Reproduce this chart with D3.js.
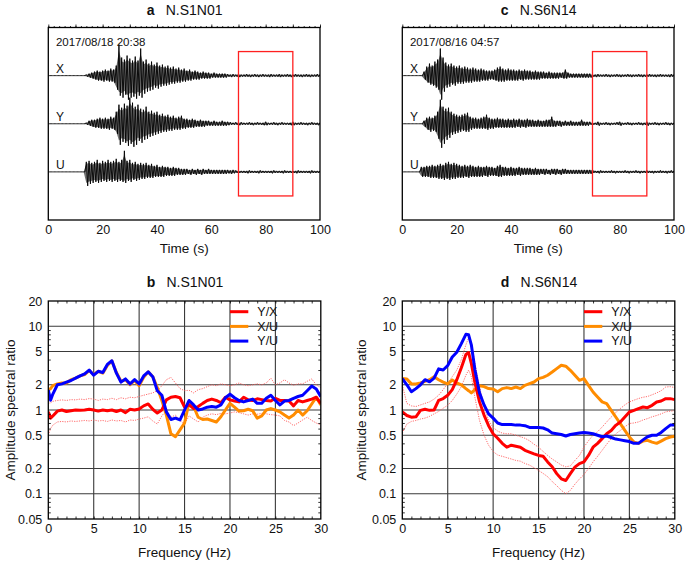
<!DOCTYPE html>
<html><head><meta charset="utf-8">
<script src="https://cdn.jsdelivr.net/npm/d3@7"></script>
<style>
body{margin:0;background:#fff}
text{font-family:"Liberation Sans",Arial,Helvetica,sans-serif;fill:#111}
</style>
</head><body>
<svg id="chart" width="685" height="561"></svg>
<script>
// ---------------- DATA ----------------
const timeTicks = [0, 20, 40, 60, 80, 100];
const freqTicks = [0, 5, 10, 15, 20, 25, 30];
const ratioTicks = [0.05, 0.1, 0.2, 0.5, 1, 2, 5, 10, 20];
const ratioGrid = [0.1, 0.2, 0.5, 1, 2, 5, 10];
const freqGrid = [5, 10, 15, 20, 25];
const ratioMinor = [0.06,0.07,0.08,0.09,0.3,0.4,0.6,0.7,0.8,0.9,3,4,6,7,8,9];
const components = ["X", "Y", "U"];
const legendLabels = ["Y/X", "X/U", "Y/U"];
const analysisWindow = [70, 90];          // seconds
const seisTime = d3.range(0, 101);        // one envelope sample per second

// station N.S1N01 (panel a) – upper / lower envelope amplitudes (counts)
const aX_up = [0,0,0,0,0,0,0,0,0,0,0,0,0,0, 1,2,3,4,5,4,5,6,5,7,6,10, 31,18,16,20,17,15,19,15,27,14, 16,12,14,11,13,10,11,9,10,8, 9,7,8,6,7,5,6,4,5,4, 3,4,3,3,2,3,2,2,2,2, 1.5,1,1.5,1,1.5,1,1,1.5,1,1, 1.5,1,1,1.5,1,1,1.5,1,1,1.5, 1,1,1.5,1,1,1.5,1,1,1,1.5, 1,1,1,1.5,1];
const aX_lo = [0,0,0,0,0,0,0,0,0,0,0,0,0,0, 1,2,3,4,5,5,6,5,6,6,7,14, 20,22,19,24,22,21,23,20,22,18, 16,15,14,12,13,11,10,10,9,8, 8,7,7,6,6,5,5,4,4,4, 3,3,3,3,2,2,2,2,2,2, 1,1.5,1,1,1.5,1,1,1,1.5,1, 1,1.5,1,1,1,1.5,1,1,1,1.5, 1,1,1,1.5,1,1,1,1.5,1,1, 1.5,1,1,1,1];
const aY_up = [0,0,0,0,0,0,0,0,0,0,0,0,0,0, 1,3,4,4,5,6,5,6,5,7,6,12, 19,16,20,18,26,21,17,19,15,14, 17,12,13,11,12,9,10,8,9,7, 8,6,7,8,5,5,4,5,4,3, 4,3,3,3,2,3,2,2,3,2, 2,1.5,1,1.5,1,1.5,1,1,1.5,1, 1,1.5,1,1,2,1,1,1.5,1,1, 1.5,1,1,1,2,1,1,1.5,1,1, 1,1.5,1,1,1];
const aY_lo = [0,0,0,0,0,0,0,0,0,0,0,0,0,0, 1,2,3,4,4,5,5,5,6,5,6,10, 21,18,19,22,20,23,21,17,19,16, 15,13,12,11,10,9,8,8,7,7, 6,6,6,5,5,4,4,4,3,3, 3,3,2,2,2,2,2,2,2,2, 1.5,1,1,1,1.5,1,1,1,1,1.5, 1,1,1,1.5,1.5,1,1,1,1.5,1, 1,1,1,1.5,1.5,1,1,1,1,1.5, 1,1,1,1.5,1];
const aU_up = [0,0,0,0,0,0,0,0,0,0,0,0,0,0, 10,11,9,10,12,9,11,10,12,10,11,13, 10,12,21,11,12,9,10,8,9,8, 9,7,8,6,7,5,6,5,5,4, 5,4,4,3,3,3,2,3,2,3, 2,3,2,3,2,2,2,2,2,2, 2,1.5,2,1.5,1,1,1,1,1.5,1, 1,1,1.5,1,1,1,1,1.5,1,1, 1,1.5,1,1,1,1,1.5,1,1,1, 1,1.5,1,1,1];
const aU_lo = [0,0,0,0,0,0,0,0,0,0,0,0,0,0, 14,12,11,10,11,10,9,10,9,10,9,10, 9,10,11,9,10,8,9,8,7,7, 6,6,6,5,5,5,5,4,4,4, 4,3,3,3,3,2,3,2,3,2, 3,2,2,2,2,2,2,2,2,2, 1.5,2,1.5,1,1,1,1,1.5,1,1, 1,1.5,1,1,1,1,1.5,1,1,1, 1.5,1,1,1,1,1.5,1,1,1,1, 1.5,1,1,1,1];

// station N.S6N14 (panel c)
const cX_up = [0,0,0,0,0,0,0,0, 4,9,12,10,14,16,27,18,13,11, 12,10,9,10,8,9,8,7,8,7, 6,7,6,5,5,5,6,8,9,7, 6,7,6,6,5,6,5,6,5,5, 4,5,4,4,4,3,4,3,3,3, 3,3,6,3,2,2,2,2,2,2, 2,2,1,1,1.5,1,1,1.5,1,1, 1,1.5,1,1,1,1.5,1,1,1,1.5, 1,1,1,1.5,1,1,1,1.5,1,1, 1,1.5,1];
const cX_lo = [0,0,0,0,0,0,0,0, 4,7,9,10,12,14,24,16,12,11, 9,10,8,8,8,7,7,7,6,6, 6,5,5,5,4,4,5,6,6,6, 5,5,5,5,5,4,5,4,4,4, 4,4,4,3,3,3,3,3,3,3, 2,3,3,2,2,2,2,2,2,2, 2,2,1,1.5,1,1,1,1,1.5,1, 1,1,1.5,1,1,1,1.5,1,1,1, 1.5,1,1,1,1,1.5,1,1,1,1, 1.5,1,1];
const cY_up = [0,0,0,0,0,0,0,0, 3,6,7,6,8,12,24,17,15,16, 12,10,9,8,9,10,11,7,6,6, 5,6,7,9,6,5,5,6,5,5, 4,5,4,5,4,5,4,4,5,4, 4,3,4,3,3,4,4,7,3,3, 3,2,3,2,3,2,2,2,4,2, 2,2,1,1,2,1,1,1.5,1,1, 1,1.5,2,1,1,1.5,1,1,1,1.5, 1,1,2,1,1,1.5,1,1,1,1.5, 1,1,1];
const cY_lo = [0,0,0,0,0,0,0,0, 3,6,8,7,8,15,24,20,16,14, 11,10,9,8,7,8,8,6,5,5, 5,5,5,6,5,5,4,4,4,4, 4,4,4,4,3,4,3,4,3,3, 3,3,3,3,3,3,3,3,3,2, 3,2,2,2,2,2,2,2,2,2, 2,1,1,1,2,1,1,1,1.5,1, 1,1,2,1,1,1,1.5,1,1,1, 1.5,1,2,1,1,1,1.5,1,1,1, 1.5,1,1];
const cU_up = [0,0,0,0,0,0,0, 5,5,6,6,7,6,7,8,7,9, 10,8,9,8,7,6,7,6,7,6, 5,6,5,5,6,5,5,4,6,7, 5,5,4,5,4,4,5,4,4,4, 4,3,4,3,3,3,3,2,3,3, 3,2,3,3,2,2,2,2,2,2, 2,2,2,2,1,1,1.5,1,1,1, 1.5,1,1,1,1,1.5,1,1,1,1.5, 1,1,1,1.5,1,1,1,1,1.5,1, 1,1,1.5,1];
const cU_lo = [0,0,0,0,0,0,0, 5,5,5,6,6,6,7,7,8,7, 8,7,7,6,6,6,5,6,5,5, 5,5,5,4,5,4,4,4,5,5, 4,4,4,4,4,3,4,3,3,3, 3,3,3,3,2,3,2,3,2,3, 2,3,2,2,2,2,2,2,2,2, 2,2,2,1,1,1.5,1,1,1,1, 1,1.5,1,1,1,1,1.5,1,1,1, 1.5,1,1,1,1,1.5,1,1,1,1, 1.5,1,1,1];

// spectral ratios, panel b (N.S1N01)
const freqB = [0,0.25,0.5,1,1.5,2,2.5,3,3.5,4,4.5,5,5.5,6,6.5,7,7.5,8,8.5,9,9.5,10,10.5,11,11.5,12,12.5,13,13.5,14,14.5,15,15.5,16,16.5,17,17.5,18,18.5,19,19.5,20,20.5,21,21.5,22,22.5,23,23.5,24,24.5,25,25.5,26,26.5,27,27.5,28,28.5,29,29.5,30];
const b_YX = [0.95,0.8,0.85,0.97,1.0,0.96,0.98,1.0,0.99,1.0,1.02,1.0,0.97,1.0,0.98,1.0,0.96,1.0,0.93,1.02,1.0,1.03,1.12,1.18,1.02,0.92,1.0,1.32,1.42,1.45,1.4,1.08,1.15,1.04,1.1,1.2,1.3,1.35,1.3,1.22,1.42,1.32,1.28,1.25,1.42,1.32,1.3,1.36,1.33,1.3,1.28,1.38,1.3,1.3,1.28,1.12,1.3,1.25,1.3,1.35,1.42,1.2];
const b_YX_hi = [1.2,1.22,1.27,1.3,1.32,1.3,1.33,1.32,1.35,1.33,1.37,1.35,1.3,1.35,1.33,1.38,1.33,1.4,1.36,1.42,1.4,1.45,1.5,1.55,1.6,1.7,1.95,2.3,2.45,2.1,1.8,1.7,1.72,1.6,1.75,1.8,1.9,2.0,1.95,2.05,2.0,1.95,2.0,2.1,2.0,1.95,2.0,2.05,2.0,2.1,2.4,2.0,2.1,2.3,2.1,1.98,2.05,2.05,2.2,2.35,2.0,1.85];
const b_YX_lo = [0.5,0.6,0.66,0.72,0.73,0.72,0.74,0.73,0.74,0.75,0.74,0.76,0.74,0.75,0.73,0.76,0.74,0.75,0.72,0.76,0.75,0.78,0.8,0.83,0.74,0.68,0.85,1.0,0.82,0.87,0.75,0.68,0.85,0.78,0.72,0.82,0.87,0.9,0.88,0.91,0.9,0.92,0.95,0.93,0.9,0.87,0.9,0.89,0.91,0.9,0.88,0.87,0.85,0.75,0.72,0.65,0.7,0.76,0.82,0.75,0.7,0.66];
const b_XU = [1.73,1.8,1.95,2.05,2.1,2.1,2.3,2.4,2.55,2.65,2.95,2.65,2.9,2.75,3.4,3.85,2.8,2.2,2.3,2.0,2.25,1.95,2.45,2.85,2.5,1.85,1.3,0.87,0.52,0.48,0.58,0.7,1.25,1.1,0.82,0.77,0.78,0.75,0.72,0.83,1.0,1.2,1.08,0.97,0.98,1.02,0.98,0.8,0.85,1.0,1.04,1.0,0.95,0.87,0.8,0.87,1.0,0.87,0.98,1.18,1.42,1.15];
const b_YU = [1.73,1.31,1.55,2.0,2.05,2.15,2.25,2.4,2.55,2.7,3.0,2.6,2.9,2.8,3.5,3.87,2.75,2.15,2.35,2.05,2.3,2.05,2.55,2.85,2.5,1.7,1.5,0.95,0.77,0.8,0.76,1.0,1.3,1.15,1.0,1.03,1.08,1.1,1.08,1.15,1.4,1.55,1.4,1.3,1.25,1.3,1.35,1.2,1.2,1.38,1.5,1.3,1.15,1.28,1.3,1.38,1.45,1.5,1.7,1.93,1.78,1.44];

// spectral ratios, panel d (N.S6N14)
const freqD = [0,0.5,1,1.5,2,2.5,3,3.5,4,4.5,5,5.5,6,6.5,7,7.3,7.6,8,8.5,9,9.5,10,10.5,11,11.5,12,12.5,13,13.5,14,14.5,15,15.5,16,16.5,17,17.5,18,18.5,19,19.5,20,20.5,21,21.5,22,22.5,23,23.5,24,24.5,25,25.5,26,26.5,27,27.5,28,28.5,29,29.5,30];
const d_YX = [0.95,0.86,0.82,0.83,0.99,1.02,0.99,1.0,1.3,1.37,1.5,1.75,2.3,3.2,4.6,4.85,3.6,2.1,1.25,0.87,0.65,0.52,0.46,0.40,0.36,0.38,0.37,0.36,0.33,0.315,0.30,0.287,0.28,0.24,0.21,0.174,0.151,0.144,0.174,0.208,0.229,0.24,0.287,0.36,0.40,0.455,0.52,0.57,0.656,0.72,0.825,0.946,0.99,1.04,1.086,1.066,1.137,1.246,1.28,1.366,1.366,1.33];
const d_YX_hi = [2.0,1.2,1.12,1.1,1.15,1.2,1.25,1.35,1.5,1.75,2.08,2.5,3.0,4.0,6.0,7.3,6.2,3.6,1.9,1.1,0.75,0.62,0.56,0.53,0.52,0.52,0.5,0.48,0.46,0.43,0.39,0.36,0.32,0.287,0.26,0.24,0.22,0.21,0.215,0.25,0.286,0.36,0.43,0.50,0.55,0.626,0.72,0.825,0.93,1.04,1.15,1.25,1.31,1.37,1.42,1.45,1.52,1.6,1.7,1.88,1.9,1.85];
const d_YX_lo = [0.53,0.68,0.73,0.75,0.78,0.8,0.84,0.9,0.96,1.05,1.14,1.3,1.55,1.9,2.6,3.0,2.5,1.4,0.75,0.5,0.38,0.32,0.29,0.28,0.27,0.26,0.25,0.245,0.23,0.22,0.205,0.19,0.175,0.16,0.14,0.125,0.11,0.10,0.11,0.13,0.15,0.17,0.2,0.24,0.28,0.33,0.39,0.455,0.52,0.57,0.63,0.69,0.70,0.72,0.76,0.79,0.83,0.86,0.9,0.95,0.97,0.98];
const d_XU = [2.38,2.35,2.05,2.05,2.1,2.2,2.3,2.5,2.3,2.15,2.05,2.28,2.1,2.0,1.8,1.7,1.6,1.75,1.95,1.9,1.8,1.78,1.65,1.8,1.85,1.8,1.88,1.8,1.97,2.06,2.16,2.37,2.45,2.6,2.84,3.12,3.42,3.33,2.98,2.6,2.26,2.37,1.97,1.64,1.43,1.25,1.19,0.99,0.825,0.686,0.571,0.476,0.414,0.40,0.426,0.434,0.414,0.40,0.426,0.455,0.476,0.485];
const d_YU = [2.37,2.0,1.65,1.8,2.0,2.3,2.17,2.4,3.1,3.0,3.4,4.3,4.9,6.2,8.0,7.9,6.0,3.0,1.6,1.15,0.9,0.8,0.7,0.67,0.67,0.67,0.66,0.66,0.65,0.62,0.62,0.62,0.61,0.58,0.53,0.52,0.51,0.49,0.51,0.52,0.53,0.54,0.53,0.52,0.50,0.48,0.49,0.47,0.45,0.44,0.43,0.42,0.40,0.40,0.44,0.48,0.50,0.50,0.54,0.60,0.66,0.66];

// ---------------- DRAWING ----------------
const svg = d3.select("#chart");
const AMP_PER_GAP = 48;           // envelope counts per trace separation
const traceLevels = [3, 2, 1];    // X, Y, U offsets
const colors = {YX: "#ff0000", XU: "#ff8c00", YU: "#0000ff", band: "#ff5a5a"};

function title(cx, cy, letter, name) {
  const t = svg.append("text").attr("x", cx).attr("y", cy).attr("text-anchor", "middle")
    .style("font-size", "14px");
  t.append("tspan").text(letter).style("font-weight", "bold");
  t.append("tspan").attr("dx", 11).text(name);
}

function seismoPanel(o) {
  const x = d3.scaleLinear().domain([0, 100]).range([o.left, o.left + 271.7]);
  const y = d3.scaleLinear().domain([0, 4]).range([220, 27.5]);
  const amp = d3.scaleLinear().domain([0, AMP_PER_GAP]).range([0, 1]);
  const g = svg.append("g");
  const clipId = "clip" + o.letter;
  svg.append("clipPath").attr("id", clipId).append("rect")
    .attr("x", x(0)).attr("y", y(4)).attr("width", x(100) - x(0)).attr("height", y(0) - y(4));
  const line = d3.line().x(d => x(d[0])).y(d => y(d[1]));
  o.traces.forEach((tr, i) => {
    const base = traceLevels[i];
    // envelope body
    const area = d3.area().x(d => x(d)).y0((d, k) => y(base - amp(tr.lo[k]) * 0.8))
      .y1((d, k) => y(base + amp(tr.up[k]) * 0.8));
    g.append("path").attr("d", area(seisTime)).attr("fill", "#000").attr("fill-opacity", 0.55)
      .attr("clip-path", `url(#${clipId})`);
    // oscillation trace
    const pts = [];
    seisTime.forEach((t, k) => {
      pts.push([t, base + amp(tr.up[k])]);
      pts.push([t + 0.5, base - amp(tr.lo[k])]);
    });
    g.append("path").attr("d", line(pts)).attr("fill", "none")
      .attr("stroke", "#000").attr("stroke-width", 0.9).attr("stroke-linejoin", "round")
      .attr("clip-path", `url(#${clipId})`);
    g.append("text").attr("x", x(2.8)).attr("y", y(base) - 2.5)
      .style("font-size", "12px").text(components[i]);
  });
  // analysis window
  g.append("rect").attr("x", x(analysisWindow[0])).attr("y", y(3.5))
    .attr("width", x(analysisWindow[1]) - x(analysisWindow[0])).attr("height", y(0.5) - y(3.5))
    .attr("fill", "none").attr("stroke", "#ff2020").attr("stroke-width", 1.3);
  // frame
  g.append("rect").attr("x", x(0)).attr("y", y(4)).attr("width", x(100) - x(0))
    .attr("height", y(0) - y(4)).attr("fill", "none").attr("stroke", "#000").attr("stroke-width", 1.3);
  // top ticks
  const tMinor = g.append("g").attr("transform", `translate(0,${y(4)})`)
    .call(d3.axisTop(x).tickValues(d3.range(0, 101, 2)).tickSize(1.5).tickFormat(""));
  const tMajor = g.append("g").attr("transform", `translate(0,${y(4)})`)
    .call(d3.axisTop(x).tickValues(d3.range(0, 101, 10)).tickSize(3).tickFormat(""));
  [tMinor, tMajor].forEach(a => { a.select(".domain").remove(); a.selectAll("line").attr("stroke-width", 0.8); });
  // bottom labels
  const ax = g.append("g").attr("transform", `translate(0,${y(0)})`)
    .call(d3.axisBottom(x).tickValues(timeTicks).tickSize(0).tickPadding(5));
  ax.select(".domain").remove();
  ax.selectAll("text").style("font-size", "12.5px").style("font-family", null).attr("fill", "#111");
  g.append("text").attr("x", (x(0) + x(100)) / 2).attr("y", 253).attr("text-anchor", "middle")
    .style("font-size", "13.5px").text("Time (s)");
  g.append("text").attr("x", x(2.8)).attr("y", 45.5).style("font-size", "11.5px").text(o.date);
  title((x(0) + x(100)) / 2 + 0.5, 14.5, o.letter, o.station);
}

function spectralPanel(o) {
  const x = d3.scaleLinear().domain([0, 30]).range([o.left, o.left + 272.5]);
  const y = d3.scaleLog().domain([0.05, 20]).range([519, 301]);
  const g = svg.append("g");
  // grid
  g.selectAll(".gv").data(freqGrid).enter().append("line")
    .attr("x1", d => x(d)).attr("x2", d => x(d)).attr("y1", y(0.05)).attr("y2", y(20))
    .attr("stroke", "#3a3a3a").attr("stroke-width", 1.1);
  g.selectAll(".gh").data(ratioGrid).enter().append("line")
    .attr("y1", d => y(d)).attr("y2", d => y(d)).attr("x1", x(0)).attr("x2", x(30))
    .attr("stroke", "#3a3a3a").attr("stroke-width", 1.1);
  const clipId = "clip" + o.letter;
  svg.append("clipPath").attr("id", clipId).append("rect")
    .attr("x", x(0)).attr("y", y(20)).attr("width", x(30) - x(0)).attr("height", y(0.05) - y(20));
  const line = d3.line().x(d => x(d[0])).y(d => y(d[1]));
  const pairs = vals => o.freq.map((f, i) => [f, vals[i]]);
  [o.hi, o.lo].forEach(v => g.append("path").attr("d", line(pairs(v))).attr("fill", "none")
    .attr("stroke", colors.band).attr("stroke-width", 0.9).attr("stroke-dasharray", "1.2,1.2")
    .attr("clip-path", `url(#${clipId})`));
  [[o.xu, colors.XU], [o.yx, colors.YX], [o.yu, colors.YU]].forEach(([v, c]) =>
    g.append("path").attr("d", line(pairs(v))).attr("fill", "none").attr("stroke", c)
      .attr("stroke-width", 3).attr("stroke-linejoin", "round").attr("clip-path", `url(#${clipId})`));
  // frame
  g.append("rect").attr("x", x(0)).attr("y", y(20)).attr("width", x(30) - x(0))
    .attr("height", y(0.05) - y(20)).attr("fill", "none").attr("stroke", "#000").attr("stroke-width", 1.3);
  // minor ticks (inward)
  const tk = [];
  tk.push(g.append("g").attr("transform", `translate(0,${y(0.05)})`).call(d3.axisBottom(x).tickValues(d3.range(1, 30)).tickSize(-2.5).tickFormat("")));
  tk.push(g.append("g").attr("transform", `translate(0,${y(20)})`).call(d3.axisTop(x).tickValues(d3.range(1, 30)).tickSize(-2.5).tickFormat("")));
  tk.push(g.append("g").attr("transform", `translate(${x(0)},0)`).call(d3.axisLeft(y).tickValues(ratioMinor).tickSize(-2.5).tickFormat("")));
  tk.push(g.append("g").attr("transform", `translate(${x(30)},0)`).call(d3.axisRight(y).tickValues(ratioMinor).tickSize(-2.5).tickFormat("")));
  tk.forEach(a => { a.select(".domain").remove(); a.selectAll("line").attr("stroke-width", 0.8); });
  // labels
  const ax = g.append("g").attr("transform", `translate(0,${y(0.05)})`)
    .call(d3.axisBottom(x).tickValues(freqTicks).tickSize(0).tickPadding(5));
  ax.select(".domain").remove();
  ax.selectAll("text").style("font-size", "12.5px").style("font-family", null).attr("fill", "#111");
  const ay = g.append("g").attr("transform", `translate(${x(0)},0)`)
    .call(d3.axisLeft(y).tickValues(ratioTicks).tickSize(0).tickPadding(6).tickFormat(d => String(d)));
  ay.select(".domain").remove();
  ay.selectAll("text").style("font-size", "12.5px").style("font-family", null).attr("fill", "#111");
  g.append("text").attr("x", (x(0) + x(30)) / 2).attr("y", 557).attr("text-anchor", "middle")
    .style("font-size", "13.5px").text("Frequency (Hz)");
  g.append("text").attr("transform", `translate(${o.ylabX},410) rotate(-90)`).attr("text-anchor", "middle")
    .style("font-size", "13.5px").text("Amplitude spectral ratio");
  // legend
  [colors.YX, colors.XU, colors.YU].forEach((c, i) => {
    const ly = 311.7 + i * 14.7;
    g.append("line").attr("x1", x(0) + 181.7).attr("x2", x(0) + 200).attr("y1", ly).attr("y2", ly)
      .attr("stroke", c).attr("stroke-width", 3);
    g.append("text").attr("x", x(0) + 209).attr("y", ly + 4.3).style("font-size", "12.5px").text(legendLabels[i]);
  });
  title((x(0) + x(30)) / 2 + 0.5, 287, o.letter, o.station);
}

seismoPanel({left: 48.3, letter: "a", station: "N.S1N01", date: "2017/08/18 20:38",
  traces: [{up: aX_up, lo: aX_lo}, {up: aY_up, lo: aY_lo}, {up: aU_up, lo: aU_lo}]});
seismoPanel({left: 402.3, letter: "c", station: "N.S6N14", date: "2017/08/16 04:57",
  traces: [{up: cX_up, lo: cX_lo}, {up: cY_up, lo: cY_lo}, {up: cU_up, lo: cU_lo}]});
spectralPanel({left: 48.3, letter: "b", station: "N.S1N01", freq: freqB, ylabX: 14.5,
  yx: b_YX, hi: b_YX_hi, lo: b_YX_lo, xu: b_XU, yu: b_YU});
spectralPanel({left: 402.3, letter: "d", station: "N.S6N14", freq: freqD, ylabX: 366,
  yx: d_YX, hi: d_YX_hi, lo: d_YX_lo, xu: d_XU, yu: d_YU});
</script>
</body></html>
